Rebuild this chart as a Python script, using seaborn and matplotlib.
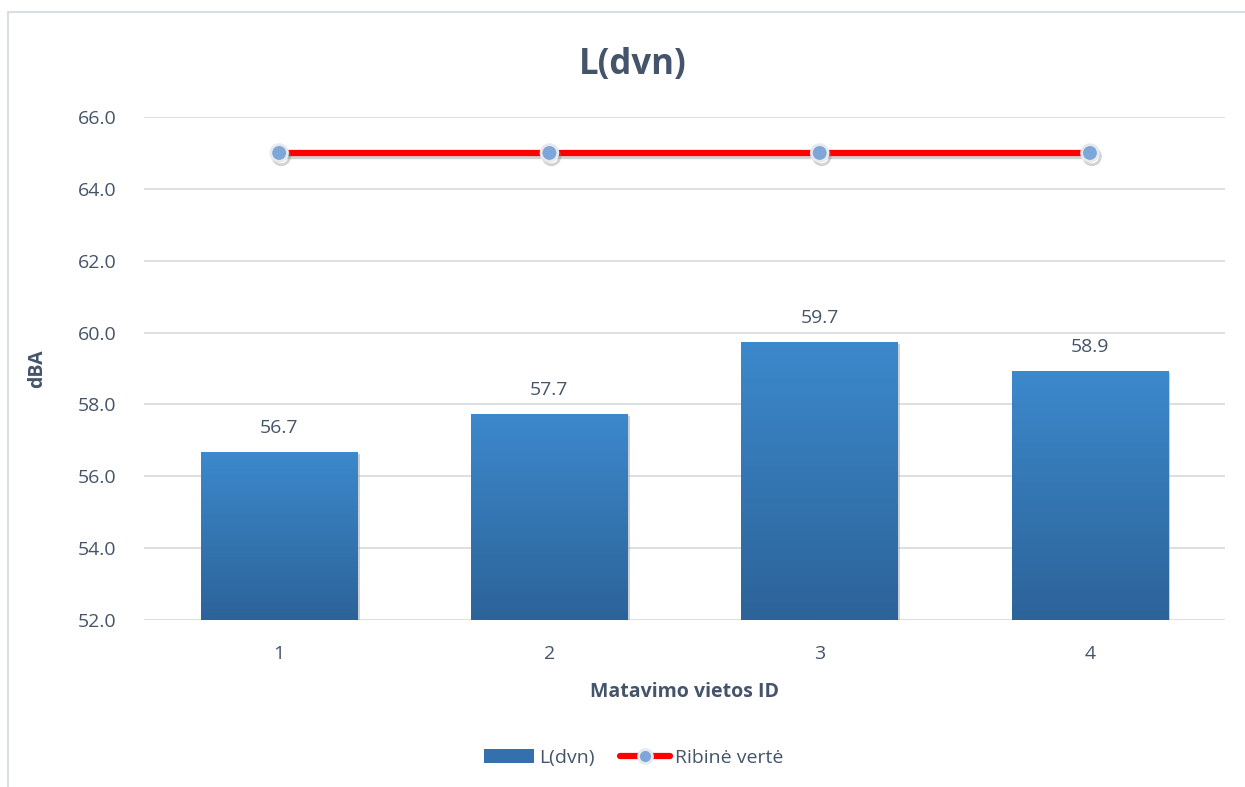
import numpy as np
import pandas as pd
import matplotlib
matplotlib.use("Agg")
import matplotlib.pyplot as plt
import matplotlib.patheffects as pe
from matplotlib.lines import Line2D
from matplotlib.patches import Patch
from matplotlib.colors import LinearSegmentedColormap
import seaborn as sns

# data
vietos_id = ["1", "2", "3", "4"]
ldvn = [56.68, 57.74, 59.74, 58.94]
ribine_verte = [65.0, 65.0, 65.0, 65.0]

sns.set_style("white")
plt.rcParams['font.family'] = ['Open Sans', 'DejaVu Sans']
txt = "#44546A"

fig = plt.figure(figsize=(12.45, 7.87), dpi=100)
ax = fig.add_axes([0.1157, 0.2122, 0.984 - 0.1157, 0.8513 - 0.2122])

df = pd.DataFrame({"ID": vietos_id, "L(dvn)": ldvn})
sns.barplot(data=df, x="ID", y="L(dvn)", color="#3470AE", width=0.58, ax=ax,
            zorder=2)

# gradient fill on bars
cmap = LinearSegmentedColormap.from_list("g", ["#2C6399", "#3C89CC"])
grad = np.linspace(0, 1, 256).reshape(-1, 1)
for p in ax.patches:
    x0, y0 = p.get_x(), p.get_y()
    w, h = p.get_width(), p.get_height()
    p.set_facecolor("none")
    p.set_edgecolor("none")
    p.set_path_effects([pe.SimplePatchShadow(offset=(1.5, -1.5), shadow_rgbFace="#9AA3AD", alpha=0.5), pe.Normal()])
    im = ax.imshow(grad, extent=[x0, x0 + w, 52, y0 + h], origin="lower",
                   cmap=cmap, aspect="auto", zorder=2.5)
    im.set_clip_path(p)

for i, v in enumerate(ldvn):
    ax.text(i, v + 0.42, f"{v:.1f}", ha="center", va="bottom",
            fontsize=14, color=txt)

sns.lineplot(x=np.arange(len(vietos_id)), y=ribine_verte, ax=ax, color="#FF0000",
             linewidth=4.5, marker="o", markersize=12, markerfacecolor="#7EA6D8",
             markeredgecolor="#E6E9EE", markeredgewidth=2, zorder=4,
             path_effects=[pe.SimpleLineShadow(offset=(1.5, -2.5), shadow_color="#808080", alpha=0.35), pe.Normal()])

ax.set_xlim(-0.5, 3.5)
ax.set_ylim(52, 66)
ax.set_yticks(np.arange(52, 66.1, 2))
ax.set_yticklabels([f"{t:.1f}" for t in np.arange(52, 66.1, 2)])
ax.grid(axis="y", color="#D9DDE3", linewidth=1.3, zorder=0)
ax.set_axisbelow(True)
for s in ax.spines.values():
    s.set_visible(False)
ax.tick_params(length=0, labelsize=14, labelcolor=txt, pad=20)
ax.tick_params(axis="x", pad=18)

ax.set_xlabel("Matavimo vietos ID", fontsize=14, fontweight="bold", color=txt, labelpad=14)
ax.set_ylabel("dBA", fontsize=14, fontweight="bold", color=txt, labelpad=22)
fig.text(0.508, 0.917, "L(dvn)", ha="center", va="center", fontsize=25,
         fontweight="bold", color=txt)

handles = [Patch(facecolor="#3470AE", edgecolor="none"),
           Line2D([0], [0], color="#FF0000", linewidth=4.5, marker="o", markersize=10,
                  markerfacecolor="#7EA6D8", markeredgecolor="#E6E9EE", markeredgewidth=2)]
fig.legend(handles, ["L(dvn)", "Ribinė vertė"], loc="center", bbox_to_anchor=(0.509, 0.037),
           ncol=2, frameon=False, fontsize=14, labelcolor=txt, handlelength=2.6,
           handletextpad=0.25, columnspacing=1.3)

# chart frame (left and top edges)
fig.add_artist(Line2D([0.0065, 0.0065], [0.0, 0.985], color="#DADFE6", linewidth=1.5))
fig.add_artist(Line2D([0.0065, 1.0], [0.985, 0.985], color="#DADFE6", linewidth=1.5))

fig.savefig("out.png", dpi=100)
